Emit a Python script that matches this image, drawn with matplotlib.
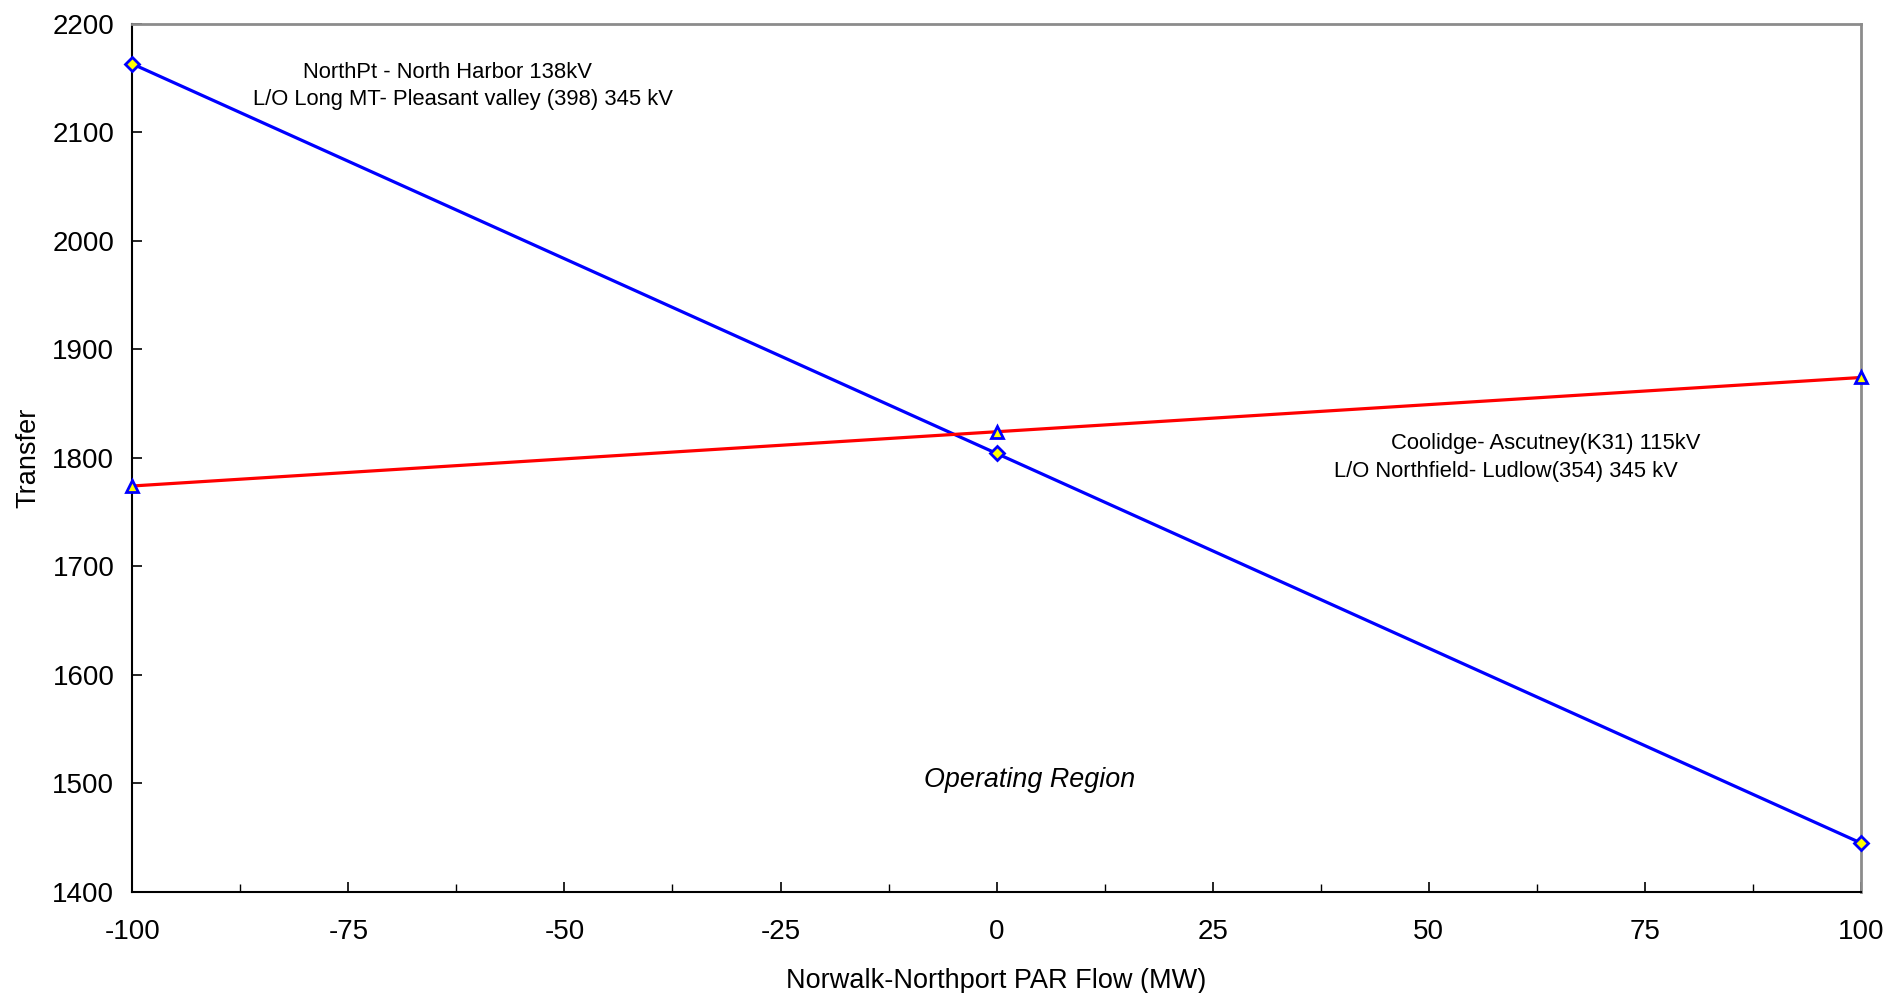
import numpy as np
import matplotlib.pyplot as plt
from matplotlib.ticker import MultipleLocator

plt.rcParams['font.family'] = ['Liberation Sans', 'DejaVu Sans']
plt.rcParams['axes.unicode_minus'] = False

# PAR flow (MW) and transfer limits
par_flow = [-100, 0, 100]
northpt_limit = [2163, 1804, 1445]   # NorthPt - North Harbor 138kV
coolidge_limit = [1774, 1824, 1874]  # Coolidge- Ascutney(K31) 115kV

fig = plt.figure(figsize=(18.89, 9.93), dpi=100)
ax = fig.add_axes([0.0701, 0.102, 0.9149, 0.874])

ax.plot(par_flow, northpt_limit, '-', color='#0000ff', lw=2.3,
        marker='D', markersize=7, markerfacecolor='#ffff00',
        markeredgecolor='#0000ff', markeredgewidth=2, clip_on=False, zorder=3)
ax.plot(par_flow, coolidge_limit, '-', color='#ff0000', lw=2.3,
        marker='^', markersize=9, markerfacecolor='#ffff00',
        markeredgecolor='#0000ff', markeredgewidth=2, clip_on=False, zorder=3)

ax.set_xlim(-100, 100)
ax.set_ylim(1400, 2200)
ax.xaxis.set_major_locator(MultipleLocator(25))
ax.xaxis.set_minor_locator(MultipleLocator(12.5))
ax.yaxis.set_major_locator(MultipleLocator(100))
ax.tick_params(which='both', direction='in', labelsize=20, top=False, right=False)
ax.tick_params(which='major', length=7, width=1.2)
ax.tick_params(which='minor', length=6, width=1)
ax.tick_params(axis='x', pad=20)
ax.tick_params(axis='y', pad=13)

for s in ['left', 'bottom']:
    ax.spines[s].set_color('black')
    ax.spines[s].set_linewidth(1.5)
for s in ['top', 'right']:
    ax.spines[s].set_color('#8c8c8c')
    ax.spines[s].set_linewidth(2)

ax.set_xlabel('Norwalk-Northport PAR Flow (MW)', fontsize=19.5, labelpad=16)
ax.set_ylabel('Transfer', fontsize=19.5, labelpad=8)

ax.text(-63.6, 2155.3, 'NorthPt - North Harbor 138kV', fontsize=15.8, ha='center', va='center')
ax.text(-61.7, 2129.8, 'L/O Long MT- Pleasant valley (398) 345 kV', fontsize=15.8, ha='center', va='center')
ax.text(63.6, 1813.3, 'Coolidge- Ascutney(K31) 115kV', fontsize=15.8, ha='center', va='center')
ax.text(59.0, 1787.8, 'L/O Northfield- Ludlow(354) 345 kV', fontsize=15.8, ha='center', va='center')
ax.text(3.8, 1503.3, 'Operating Region', fontsize=19.4, style='italic', ha='center', va='center')

fig.savefig('out.png', dpi=100)
